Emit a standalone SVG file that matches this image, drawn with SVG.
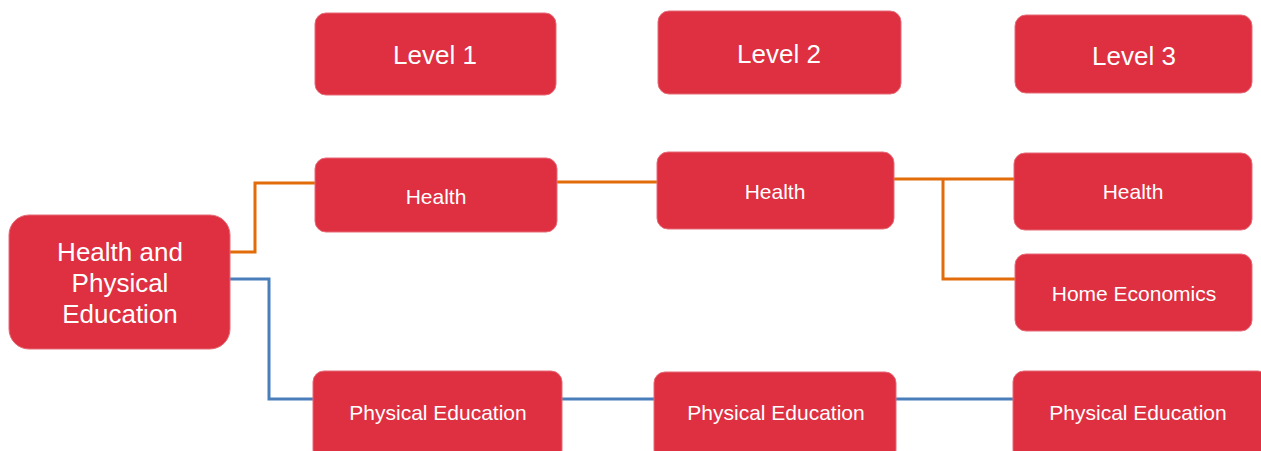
<svg xmlns="http://www.w3.org/2000/svg" width="1261" height="451" viewBox="0 0 1261 451">
<style>
.box{fill:#de3041;stroke:#e76a76;stroke-width:1}
.t{fill:#ffffff;font-family:"Liberation Sans",Arial,sans-serif;text-anchor:middle}
.big{font-size:26px}
.sm{font-size:21px}
.or{fill:none;stroke:#e36c0a;stroke-width:3}
.bl{fill:none;stroke:#4a7ebb;stroke-width:3}
</style>
<rect width="1261" height="451" fill="#ffffff"/>
<g id="connectors">
<polyline class="or" points="230,252 255,252 255,183 315,183"/>
<polyline class="bl" points="230,279 269,279 269,399 313,399"/>
<line class="or" x1="557" y1="182" x2="657" y2="182"/>
<polyline class="or" points="894,179 1014,179"/>
<polyline class="or" points="943,179 943,279 1015,279"/>
<line class="bl" x1="562" y1="399" x2="654" y2="399"/>
<line class="bl" x1="896" y1="399" x2="1013" y2="399"/>
</g>
<g id="level1"><rect class="box" x="315" y="13" width="241" height="82" rx="11"/><text class="t big" x="435" y="64">Level 1</text></g>
<g id="level2"><rect class="box" x="658" y="11" width="243" height="83" rx="11"/><text class="t big" x="779" y="63">Level 2</text></g>
<g id="level3"><rect class="box" x="1015" y="15" width="237" height="78" rx="11"/><text class="t big" x="1134" y="65">Level 3</text></g>
<g id="hpe"><rect class="box" x="9" y="215" width="221" height="134" rx="20"/>
<text class="t big" x="120" y="261">Health and</text>
<text class="t big" x="120" y="292">Physical</text>
<text class="t big" x="120" y="323">Education</text></g>
<g id="health1"><rect class="box" x="315" y="158" width="242" height="74" rx="11"/><text class="t sm" x="436" y="204">Health</text></g>
<g id="health2"><rect class="box" x="657" y="152" width="237" height="77" rx="11"/><text class="t sm" x="775" y="199">Health</text></g>
<g id="health3"><rect class="box" x="1014" y="153" width="238" height="77" rx="11"/><text class="t sm" x="1133" y="199">Health</text></g>
<g id="homeec"><rect class="box" x="1015" y="254" width="237" height="77" rx="11"/><text class="t sm" x="1134" y="301">Home Economics</text></g>
<g id="pe1"><rect class="box" x="313" y="371" width="249" height="90" rx="11"/><text class="t sm" x="438" y="420">Physical Education</text></g>
<g id="pe2"><rect class="box" x="654" y="372" width="242" height="89" rx="11"/><text class="t sm" x="776" y="420">Physical Education</text></g>
<g id="pe3"><rect class="box" x="1013" y="371" width="256" height="90" rx="11"/><text class="t sm" x="1138" y="420">Physical Education</text></g>
</svg>
